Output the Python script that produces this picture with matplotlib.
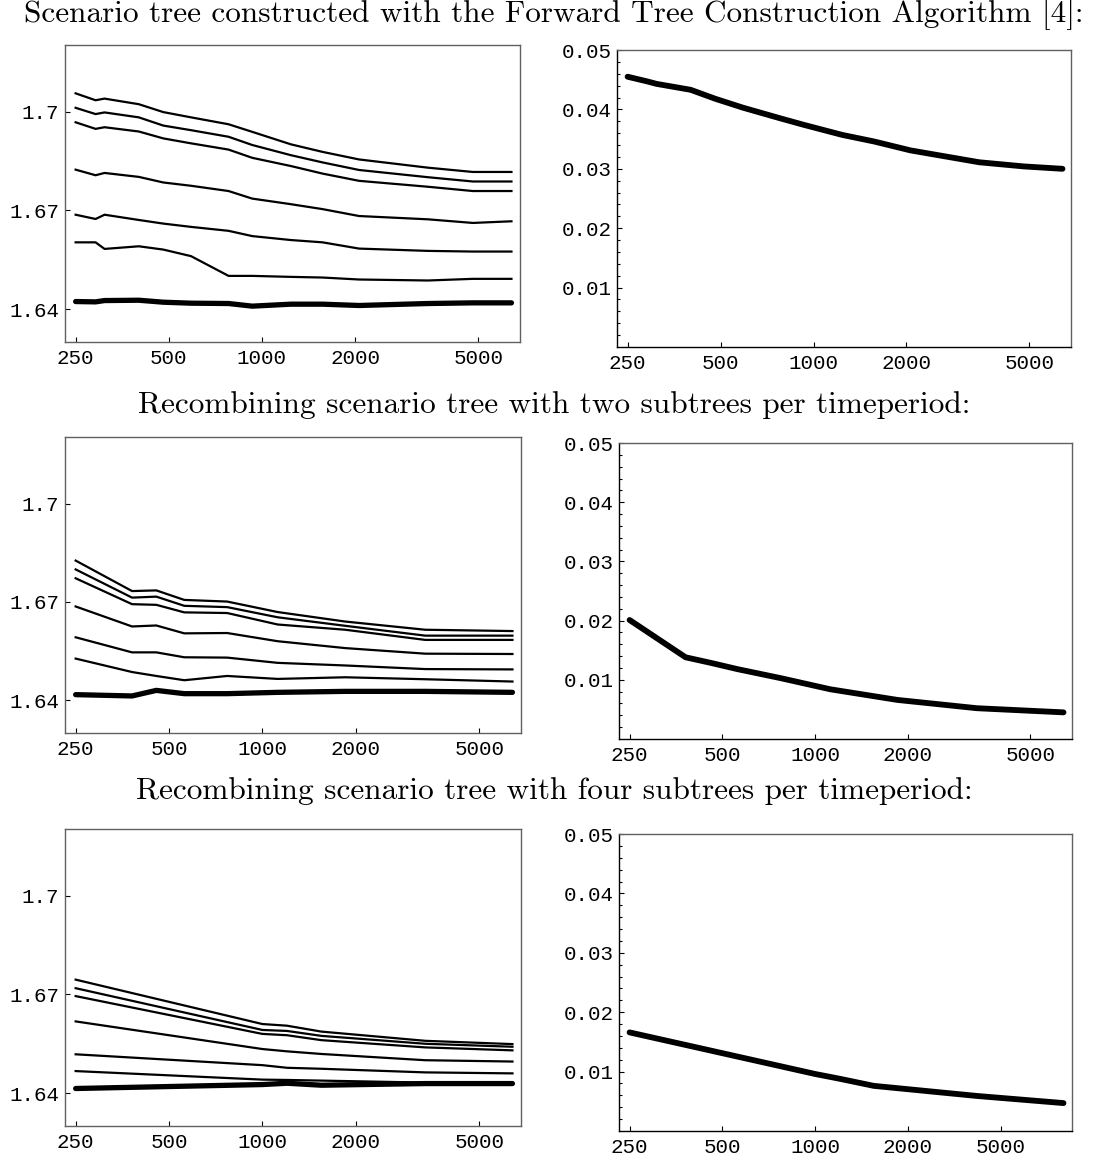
import matplotlib
matplotlib.use("Agg")
import matplotlib.pyplot as plt
from matplotlib.ticker import FixedLocator, FixedFormatter, NullLocator

# ---------------- data ----------------
titles = [
    "Scenario tree constructed with the Forward Tree Construction Algorithm [4]:",
    "Recombining scenario tree with two subtrees per timeperiod:",
    "Recombining scenario tree with four subtrees per timeperiod:",
]

# Row 1: Forward Tree Construction
XA = [250, 290, 310, 400, 480, 590, 780, 930, 1240, 1570, 2060, 3440, 4800, 6400]
A1 = [1.7056, 1.7035, 1.7040, 1.7023, 1.6999, 1.6983, 1.6962, 1.6939, 1.6901, 1.6878, 1.6855, 1.6830, 1.6817, 1.6817]
A2 = [1.7012, 1.6993, 1.6998, 1.6983, 1.6958, 1.6944, 1.6924, 1.6899, 1.6868, 1.6846, 1.6823, 1.6801, 1.6788, 1.6788]
A3 = [1.6968, 1.6948, 1.6953, 1.6940, 1.6919, 1.6904, 1.6885, 1.6860, 1.6835, 1.6812, 1.6790, 1.6772, 1.6759, 1.6759]
A4 = [1.6824, 1.6807, 1.6814, 1.6802, 1.6785, 1.6775, 1.6759, 1.6736, 1.6719, 1.6704, 1.6683, 1.6673, 1.6662, 1.6667]
A5 = [1.6687, 1.6674, 1.6687, 1.6671, 1.6660, 1.6650, 1.6638, 1.6622, 1.6610, 1.6603, 1.6584, 1.6577, 1.6575, 1.6575]
A6 = [1.6603, 1.6603, 1.6583, 1.6591, 1.6581, 1.6561, 1.6501, 1.6501, 1.6498, 1.6496, 1.6490, 1.6487, 1.6492, 1.6492]
A7 = [1.6423, 1.6422, 1.6426, 1.6427, 1.6421, 1.6418, 1.6417, 1.6409, 1.6415, 1.6415, 1.6411, 1.6417, 1.6419, 1.6419]
EA = [0.0455, 0.0447, 0.0443, 0.0433, 0.0418, 0.0403, 0.0385, 0.0374, 0.0357, 0.0346, 0.0331, 0.0311, 0.0304, 0.0300]

# Row 2: two subtrees
XB = [250, 380, 455, 560, 770, 1120, 1850, 3350, 6400]
B1 = [1.6826, 1.6733, 1.6735, 1.6706, 1.6701, 1.6669, 1.6640, 1.6615, 1.6611]
B2 = [1.6799, 1.6713, 1.6716, 1.6688, 1.6684, 1.6653, 1.6627, 1.6597, 1.6597]
B3 = [1.6772, 1.6693, 1.6691, 1.6668, 1.6666, 1.6631, 1.6615, 1.6584, 1.6584]
B4 = [1.6686, 1.6625, 1.6628, 1.6604, 1.6605, 1.6580, 1.6559, 1.6542, 1.6541]
B5 = [1.6592, 1.6546, 1.6546, 1.6531, 1.6530, 1.6514, 1.6506, 1.6495, 1.6494]
B6 = [1.6527, 1.6486, 1.6474, 1.6461, 1.6474, 1.6465, 1.6470, 1.6464, 1.6457]
B7 = [1.6417, 1.6413, 1.6430, 1.6420, 1.6420, 1.6424, 1.6427, 1.6427, 1.6424]
EB = [0.0201, 0.0138, 0.0129, 0.0118, 0.0103, 0.0084, 0.0066, 0.0052, 0.0045]

# Row 3: four subtrees
XC = [250, 1000, 1200, 1550, 3350, 6400]
C1 = [1.6745, 1.6610, 1.6605, 1.6587, 1.6559, 1.6549]
C2 = [1.6719, 1.6592, 1.6589, 1.6574, 1.6550, 1.6541]
C3 = [1.6695, 1.6580, 1.6576, 1.6561, 1.6539, 1.6530]
C4 = [1.6618, 1.6534, 1.6527, 1.6519, 1.6500, 1.6496]
C5 = [1.6518, 1.6485, 1.6477, 1.6474, 1.6463, 1.6460]
C6 = [1.6467, 1.6441, 1.6440, 1.6438, 1.6432, 1.6431]
C7 = [1.6414, 1.6426, 1.6430, 1.6424, 1.6429, 1.6429]
EC = [0.0166, 0.0096, 0.0088, 0.0076, 0.0059, 0.0047]

xticks = [250, 500, 1000, 2000, 5000]
xticklabels = ["250", "500", "1000", "2000", "5000"]
xticks_last = [250, 500, 1000, 2000, 4000]   # as placed in the last panel
left_yticks = [1.64, 1.67, 1.70]
left_yticklabels = ["1.64", "1.67", "1.7"]
right_yticks = [0.01, 0.02, 0.03, 0.04, 0.05]
right_yticklabels = ["0.01", "0.02", "0.03", "0.04", "0.05"]
right_yminor = [0.002, 0.004, 0.006, 0.008, 0.012, 0.014, 0.016, 0.018,
                0.022, 0.024, 0.026, 0.028, 0.032, 0.034, 0.036, 0.038,
                0.042, 0.044, 0.046, 0.048]

rows = [
    (XA, [A1, A2, A3, A4, A5, A6], A7, EA, xticks),
    (XB, [B1, B2, B3, B4, B5, B6], B7, EB, xticks),
    (XC, [C1, C2, C3, C4, C5, C6], C7, EC, xticks_last),
]

# ---------------- layout ----------------
W, H = 1104, 1155
fig = plt.figure(figsize=(W / 100, H / 100), dpi=100)

def rect(x0, y0, x1, y1):
    return [x0 / W, 1 - y1 / H, (x1 - x0) / W, (y1 - y0) / H]

left_rects = [rect(65, 45, 520, 342), rect(65, 437, 521, 733), rect(65, 829, 521, 1126)]
right_rects = [rect(617, 50, 1071, 347), rect(619, 443, 1072, 739), rect(619, 834, 1072, 1131)]
title_y = [15, 405, 791]

GRAY = "#606060"

def style(ax, frame_lr_color):
    ax.xaxis.set_minor_locator(NullLocator())
    ax.tick_params(axis="both", which="both", direction="in", top=False, right=False,
                   width=0.8, colors="black", labelfontfamily="Liberation Mono",
                   labelsize=15)
    ax.tick_params(axis="both", which="major", length=3.5)
    ax.tick_params(axis="both", which="minor", length=2.0)
    ax.tick_params(axis="x", pad=5)
    ax.tick_params(axis="y", pad=4)
    for s in ["top", "right"]:
        ax.spines[s].set_color(GRAY)
        ax.spines[s].set_linewidth(1.0)
    for s in ["left", "bottom"]:
        ax.spines[s].set_color(frame_lr_color)
        ax.spines[s].set_linewidth(1.0)

for i, (X, thin, thick, E, xt) in enumerate(rows):
    axl = fig.add_axes(left_rects[i])
    axl.set_xscale("log")
    for y in thin:
        axl.plot(X, y, color="black", lw=1.6, solid_joinstyle="round")
    axl.plot(X, thick, color="black", lw=3.8, solid_capstyle="round", solid_joinstyle="round")
    axl.set_xlim(231, 6820)
    axl.set_ylim(1.63, 1.7203)
    axl.yaxis.set_major_locator(FixedLocator(left_yticks))
    axl.yaxis.set_major_formatter(FixedFormatter(left_yticklabels))
    axl.xaxis.set_major_locator(FixedLocator(xticks))
    axl.xaxis.set_major_formatter(FixedFormatter(xticklabels))
    style(axl, GRAY)

    axr = fig.add_axes(right_rects[i])
    axr.set_xscale("log")
    axr.plot(X, E, color="black", lw=4.2, solid_capstyle="round", solid_joinstyle="round")
    axr.set_xlim(231, 6820)
    axr.set_ylim(0, 0.05)
    axr.yaxis.set_major_locator(FixedLocator(right_yticks))
    axr.yaxis.set_major_formatter(FixedFormatter(right_yticklabels))
    axr.yaxis.set_minor_locator(FixedLocator(right_yminor))
    axr.xaxis.set_major_locator(FixedLocator(xt))
    axr.xaxis.set_major_formatter(FixedFormatter(xticklabels))
    style(axr, "black")

    fig.text(0.502, 1 - title_y[i] / H, titles[i], ha="center", va="center",
             fontfamily="cmr10", fontsize=22.5)

fig.savefig("out.png", dpi=100)
